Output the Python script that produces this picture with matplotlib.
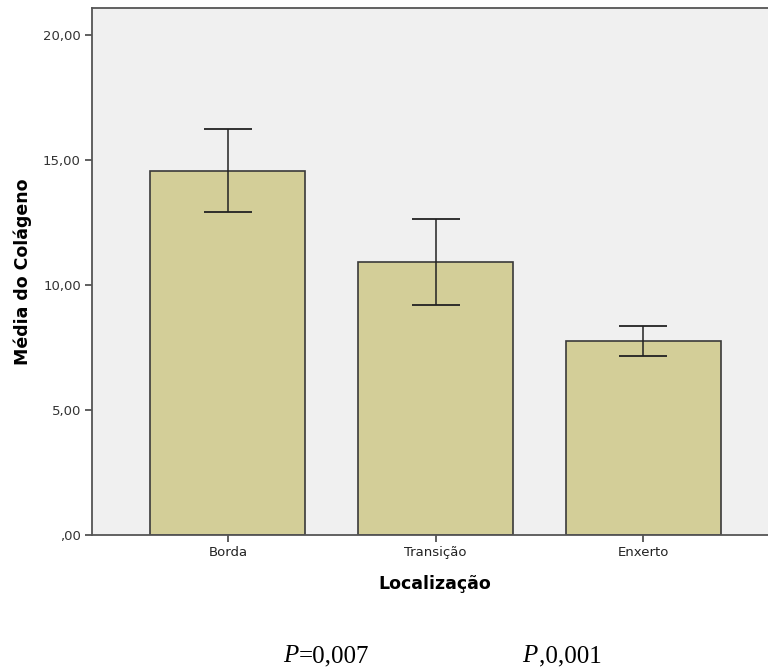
import matplotlib.pyplot as plt
import numpy as np

# mean collagen by location, with CI bounds
locais = ["Borda", "Transição", "Enxerto"]
medias = [14.58, 10.93, 7.76]
ic_sup = [16.24, 12.65, 8.37]
ic_inf = [12.91, 9.20, 7.16]
yticks = [0, 5, 10, 15, 20]
ytick_labels = [",00", "5,00", "10,00", "15,00", "20,00"]

W, H = 768, 669
fig = plt.figure(figsize=(W / 100, H / 100), dpi=100)
fig.patch.set_facecolor("white")

# plot area (right side runs past the figure edge)
x0, x1 = 92, 779
y0, y1 = 8, 535
ax = fig.add_axes([x0 / W, 1 - y1 / H, (x1 - x0) / W, (y1 - y0) / H])
ax.set_facecolor("#f0f0f0")

x = np.arange(len(locais))
med = np.array(medias)
err = np.vstack([med - np.array(ic_inf), np.array(ic_sup) - med])

ax.bar(x, med, width=0.747, color="#d3ce98", edgecolor="#3a3a3a",
       linewidth=1.2, zorder=2)
ax.errorbar(x, med, yerr=err, fmt="none", ecolor="#222222",
            elinewidth=1.1, capsize=17, capthick=1.3, zorder=3)

ax.set_xlim(-0.655, 2.655)
ax.set_ylim(0, 21.08)
ax.set_xticks(x)
ax.set_xticklabels(locais, fontsize=9.5, color="#222222")
ax.set_yticks(yticks)
ax.set_yticklabels(ytick_labels, fontsize=9.5, color="#333333")
ax.tick_params(axis="both", direction="out", length=5, width=1.2,
               color="#444444", pad=3)

for s in ax.spines.values():
    s.set_color("#555555")
    s.set_linewidth(1.3)

ax.set_ylabel("Média do Colágeno", fontsize=12.5, fontweight="bold",
              labelpad=8)
fig.text(435 / W, 1 - 584 / H, "Localização", fontsize=12.5,
         fontweight="bold", ha="center", va="center")

# p-values below the chart
serif = "Liberation Serif"
for px, rest, rx in [(283, "=0,007", 299), (522, ",0,001", 539)]:
    fig.text(px / W, 1 - 662 / H, "P", fontsize=18, family=serif,
             style="italic", ha="left", va="baseline")
    fig.text(rx / W, 1 - 662 / H, rest, fontsize=18, family=serif,
             ha="left", va="baseline")

fig.savefig("out.png", dpi=100)
